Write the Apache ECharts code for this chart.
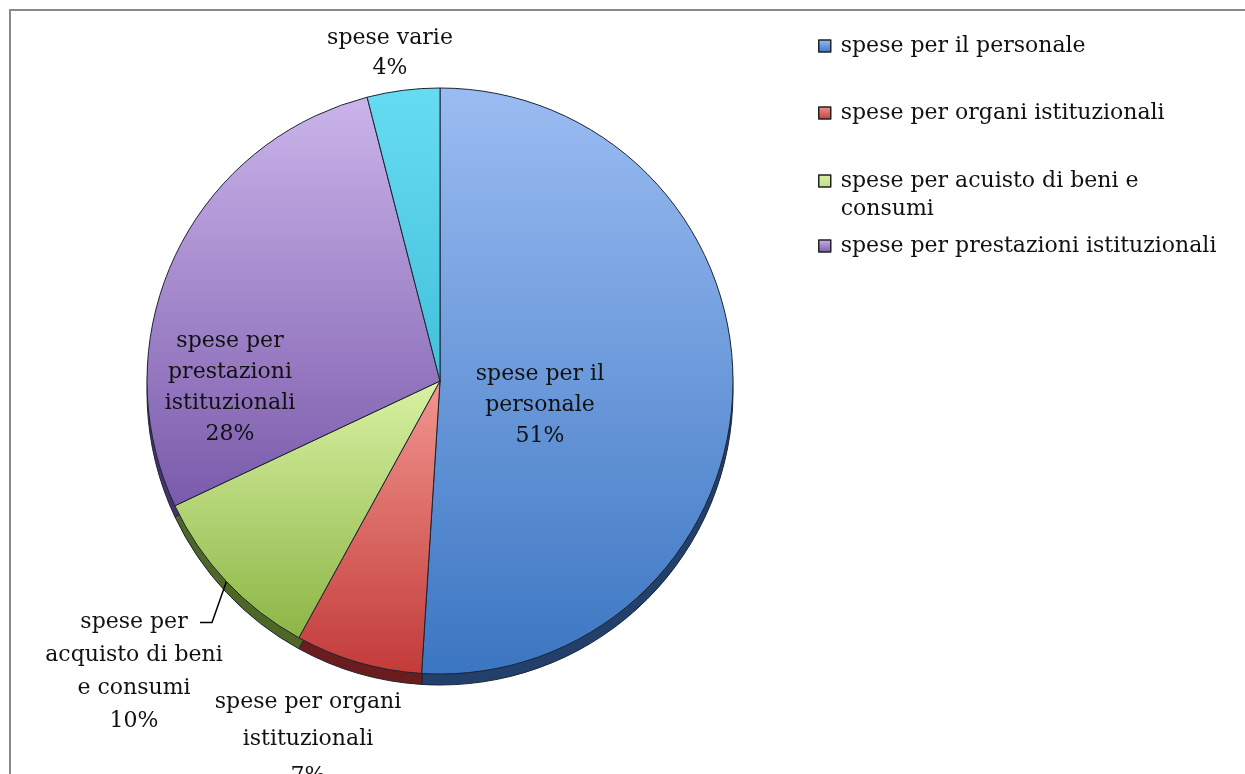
<!DOCTYPE html>
<html>
<head>
<meta charset="utf-8">
<script src="https://cdn.jsdelivr.net/npm/echarts@6/dist/echarts.min.js"></script>
<style>
  html, body { margin: 0; padding: 0; background: #fff; overflow: hidden; }
  #frame { position: absolute; left: 9px; top: 9px; width: 1250px; height: 800px; border: 2px solid #8a8a8a; box-sizing: border-box; }
  #chart { position: absolute; left: 0; top: 0; width: 1245px; height: 774px; }
</style>
</head>
<body>
<div id="frame"></div>
<div id="chart"></div>
<script>
// dati del grafico
let categories = ["spese per il personale", "spese per organi istituzionali", "spese per acquisto di beni e consumi", "spese per prestazioni istituzionali", "spese varie"];
let values = [51, 7, 10, 28, 4];
// testo delle etichette (con a capo) e della legenda
let labelNames = ["spese per il\npersonale", "spese per organi\nistituzionali", "spese per\nacquisto di beni\ne consumi", "spese per\nprestazioni\nistituzionali", "spese varie"];
let legendNames = ["spese per il personale", "spese per organi istituzionali", "spese per acuisto di beni e\nconsumi", "spese per prestazioni istituzionali"];

// colori: chiaro (alto), scuro (basso), bordo 3D
let topColors = ["#9bbcf2", "#f2968f", "#d9f1a3", "#cbb4ea", "#66dcf1"];
let bottomColors = ["#3b76c2", "#c23b39", "#8cb545", "#7a5aab", "#43c0dc"];
let rimColors = ["#22406b", "#6b1d1e", "#4e6726", "#47336a", "#2b7f92"];

// posizioni delle etichette (centro)
let labelPos = [[540, 405], [308, 739], [134, 672], [230, 388], [390, 53]];
let labelLH = [31, 37, 33, 31, 30];

let chart = echarts.init(document.getElementById("chart"));
let font = "'DejaVu Serif', 'Liberation Serif', serif";

function grad(i) {
    return new echarts.graphic.LinearGradient(0, 0, 0, 1, [
        { offset: 0, color: topColors[i] },
        { offset: 1, color: bottomColors[i] }
    ]);
}

let mainData = categories.map((name, i) => ({
    name: name,
    value: values[i],
    itemStyle: { color: grad(i) },
    label: { lineHeight: labelLH[i] },
    labelLine: { show: i === 2, length: 12, length2: 10, lineStyle: { color: "#000", width: 1.5 } }
}));

let rimData = categories.map((name, i) => ({
    name: name + " ",
    value: values[i],
    itemStyle: { color: rimColors[i] }
}));

// legenda: una per voce per riprodurre la spaziatura di Excel
let legendTops = [32, 99, 167, 232];
let legends = legendNames.map((ln, i) => ({
    data: [categories[i]],
    left: 818,
    top: legendTops[i],
    padding: 0,
    orient: "vertical",
    // la terza voce va su due righe: icona allineata alla prima riga
    icon: i === 2 ? "path://M0,0L12,0L12,12L0,12Z M0,40" : "rect",
    itemWidth: 12,
    itemHeight: i === 2 ? 40 : 12,
    itemGap: 0,
    itemStyle: { borderColor: "#222", borderWidth: 1.5 },
    selectedMode: false,
    formatter: () => legendNames[i],
    textStyle: {
        fontFamily: font, fontSize: 22, color: "#111", lineHeight: 28,
        padding: [0, 0, 0, 5]
    }
}));

chart.setOption({
    animation: false,
    legend: legends,
    series: [
        {
            type: "pie",
            silent: true,
            center: [440, 392],
            radius: 293,
            startAngle: 90,
            clockwise: true,
            label: { show: false },
            labelLine: { show: false },
            itemStyle: { borderColor: "#1b2433", borderWidth: 1 },
            data: rimData,
            z: 1
        },
        {
            type: "pie",
            center: [440, 381],
            radius: 293,
            startAngle: 90,
            clockwise: true,
            itemStyle: { borderColor: "#1b2433", borderWidth: 1 },
            label: {
                show: true,
                position: "outside",
                overflow: "none",
                fontFamily: font,
                fontSize: 22,
                color: "#111",
                formatter: p => labelNames[p.dataIndex] + "\n" + Math.round(p.percent) + "%"
            },
            labelLayout: function (p) {
                let pos = labelPos[p.dataIndex];
                let lh = labelLH[p.dataIndex];
                let res = { x: pos[0], y: pos[1], align: "center", verticalAlign: "middle" };
                // linea guida: dal bordo della fetta alla fine della prima riga
                if (p.dataIndex === 2 && p.labelLinePoints) {
                    let y1 = pos[1] - 1.5 * lh;
                    res.labelLinePoints = [p.labelLinePoints[0], [pos[0] + 78, y1], [pos[0] + 66, y1]];
                }
                return res;
            },
            emphasis: { disabled: true },
            data: mainData,
            z: 2
        }
    ]
});

window.addEventListener("resize", function () {
    chart.resize();
});
</script>
</body>
</html>
